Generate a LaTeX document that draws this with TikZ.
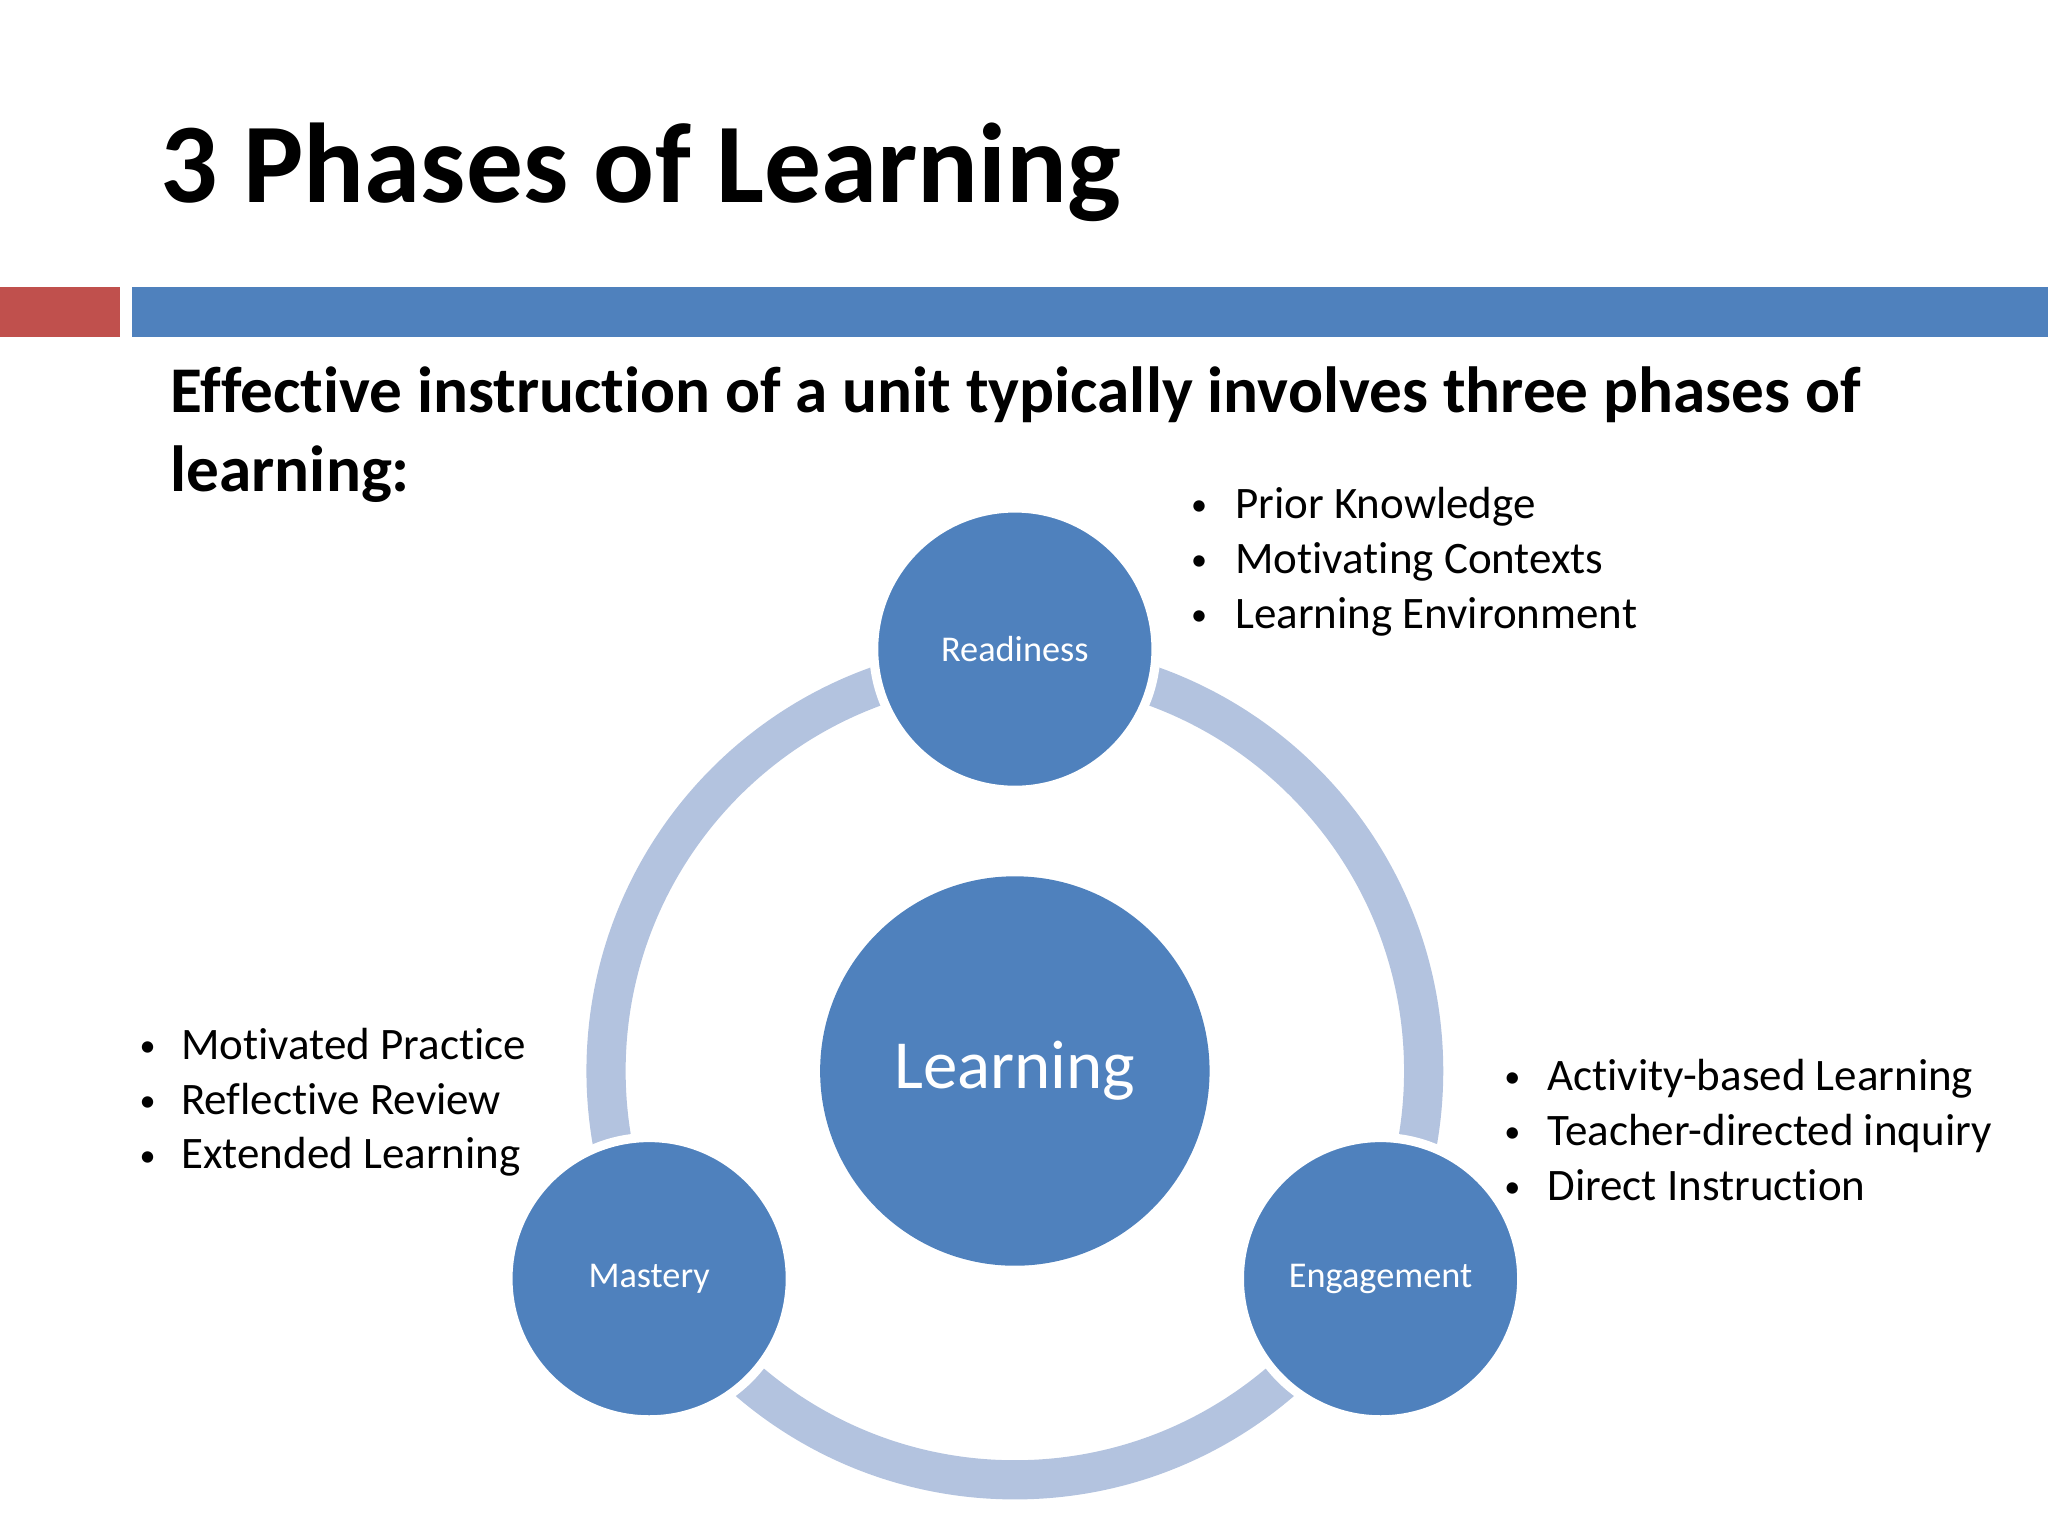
\documentclass[tikz,border=0pt]{standalone}
\usepackage{fontspec}
\setmainfont[Ligatures={NoCommon,NoContextual}]{Carlito}
\definecolor{blu}{HTML}{4F81BD}
\definecolor{redb}{HTML}{C0504D}
\definecolor{ring}{HTML}{B3C3DF}
\begin{document}
\begin{tikzpicture}[x=0.01cm,y=-0.01cm,
  phase/.style={circle,fill=blu,draw=white,line width=0.07cm,minimum size=2.16cm,inner sep=0pt,text=white,font=\fontsize{7.9}{9}\selectfont},
  bul/.style={anchor=base west,font=\fontsize{9.8}{12}\selectfont,inner sep=0pt},
  dot/.style={anchor=base,font=\fontsize{7}{8}\selectfont,inner sep=0pt}]
\useasboundingbox (0,0) rectangle (1568,1176);
\node[anchor=base west,inner sep=0pt,font=\fontsize{24.7}{28}\selectfont\bfseries] (title) at (122,155) {3 Phases of Learning};
\fill[redb] (0,220) rectangle (92,258);
\fill[blu] (101,220) rectangle (1568,258);
\node[anchor=base west,inner sep=0pt,font=\fontsize{14.2}{16}\selectfont\bfseries] (sub1) at (130,316) {Effective instruction of a unit typically involves three phases of};
\node[anchor=base west,inner sep=0pt,font=\fontsize{14.2}{16}\selectfont\bfseries] (sub2) at (130,376) {learning:};
\coordinate (c) at (777,820);
\draw[ring,line width=0.3cm] (c) circle [radius=313];
\node[circle,fill=blu,minimum size=2.98cm,inner sep=0pt,text=white,font=\fontsize{15}{17}\selectfont] (learn) at (c) {Learning};
\node[phase] (ready) at (777,497) {Readiness};
\node[phase] (mast) at (497,979) {Mastery};
\node[phase] (eng) at (1057,979) {Engagement};
\foreach \t [count=\i] in {Prior Knowledge,Motivating Contexts,Learning Environment}{
  \node[bul] (r\i) at (945,387+42*\i-42+10) {\t};
  \node[dot] at (918,387+42*\i-42+8) {•};}
\foreach \t [count=\i] in {Activity-based Learning,Teacher-directed inquiry,Direct Instruction}{
  \node[bul] (e\i) at (1184,825+42*\i-42+10) {\t};
  \node[dot] at (1158,825+42*\i-42+8) {•};}
\foreach \t [count=\i] in {Motivated Practice,Reflective Review,Extended Learning}{
  \node[bul] (m\i) at (138,801+42*\i-42+10) {\t};
  \node[dot] at (113,801+42*\i-42+8) {•};}
\end{tikzpicture}
\end{document}
